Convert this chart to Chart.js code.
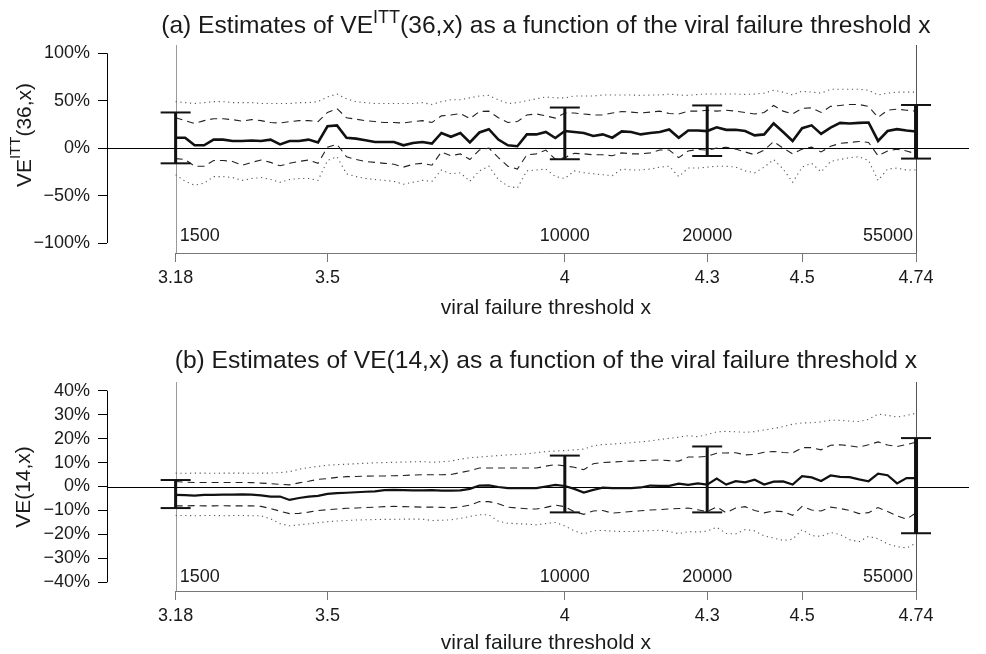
<!DOCTYPE html>
<html>
<head>
<meta charset="utf-8">
<script src="https://cdn.jsdelivr.net/npm/chart.js@4.4.1/dist/chart.umd.min.js"></script>
<style>
  body { margin: 0; background: #fff; }
  #wrap { position: relative; width: 986px; height: 654px; }
  canvas { position: absolute; left: 0; }
</style>
</head>
<body>
<div id="wrap">
  <canvas id="panelA" width="986" height="327" style="top:0"></canvas>
  <canvas id="panelB" width="986" height="327" style="top:327px"></canvas>
</div>
<script>
// log10 of the viral failure threshold
const thresholds = [
  3.18, 3.20, 3.22, 3.24, 3.26, 3.28, 3.30, 3.32, 3.34, 3.36, 3.38, 3.40, 3.42, 3.44,
  3.46, 3.48, 3.50, 3.52, 3.54, 3.56, 3.58, 3.60, 3.62, 3.64, 3.66, 3.68, 3.70,
  3.72, 3.74, 3.76, 3.78, 3.80, 3.82, 3.84, 3.86, 3.88, 3.90, 3.92, 3.94, 3.96, 3.98,
  4.00, 4.02, 4.04, 4.06, 4.08, 4.10, 4.12, 4.14, 4.16, 4.18, 4.20, 4.22, 4.24, 4.26,
  4.28, 4.30, 4.32, 4.34, 4.36, 4.38, 4.40, 4.42, 4.44, 4.46, 4.48, 4.50, 4.52, 4.54,
  4.56, 4.58, 4.60, 4.62, 4.64, 4.66, 4.68, 4.70, 4.72, 4.74
];
const xTicks = [3.18, 3.5, 4, 4.3, 4.5, 4.74];
const barX = [3.18, 4.0, 4.3, 4.74];
const countLabels = ['1500', '10000', '20000', '55000'];

// (a) VE^ITT(36,x), percent
const estA = [
  11, 11, 3, 3, 9, 9, 7.6, 7.6, 8, 7.6, 9, 4, 7.6, 7.6, 9, 6, 23, 24, 11, 10, 8.3, 6.5, 6.5, 6.5, 3, 5.5, 6.5,
  4.8, 16, 12, 15.9, 6, 16.5, 20, 9, 3, 2, 14.5, 14.5, 17, 10.7, 18, 17, 16, 12.8, 14.5, 11, 17.6, 17, 14.5, 15.9, 17, 19.7, 11, 18.6,
  18.6, 18, 22, 19.3, 19.3, 18, 13.5, 14.5, 26, 17, 7.6, 21, 24, 15, 21.7, 26.6, 26, 26.6, 27, 7.6, 18, 20, 18.6, 17.6
];
const hiDashA = [
  32, 29, 26, 29, 31, 31, 30, 28.5, 30, 29, 27, 26.5, 28, 29, 29, 28, 37.6, 41.7, 32, 30.5, 29, 28, 27, 27, 26.5, 28, 29,
  27, 34, 35, 36.5, 31, 38.6, 39, 32, 27, 28, 35, 36, 34, 31.7, 37, 37, 36, 35, 35, 37, 38.6, 38, 37, 38, 39, 36.5, 36, 39,
  39, 40, 39, 40, 39, 37.6, 36, 37.6, 45, 39, 36, 42, 42.5, 37.6, 44, 45, 46, 46, 44, 32.4, 40, 41, 40, 39
];
const hiDotA = [
  49, 48, 47, 48, 49, 49, 48, 48, 48, 47, 47, 47, 47, 48, 48, 49, 54, 57, 52, 49, 48, 47, 47, 47, 47, 47, 48,
  46, 49, 51, 51, 53, 55, 55.6, 51, 47, 48, 50, 52, 54, 53, 53, 55, 55, 55, 56, 56, 56, 56, 55.6, 56, 56, 57, 56, 55.6,
  56.6, 57, 57, 57, 57, 56.6, 57, 58, 61, 59, 56, 60, 59, 58, 62, 62, 62, 62, 61, 56, 58, 59, 59, 59
];
const loDashA = [
  -11, -12, -19, -19, -13, -13, -14, -18, -15, -12.5, -15, -18.6, -16, -14, -12.5, -16, 1, 4, -9, -12, -14, -15, -16, -17, -20, -17, -16,
  -18, -4, -8, -6, -12, -2, 0, -10, -19, -22, -7, -6, -2, -11.7, -10, -5.5, -6, -7, -7, -8, -5, -6, -6, -5, -2, -2, -10, -3,
  -1.4, -2, 0, 1, -1, -4, -7, -2, 7, 0, -6, -1, 1, -4, 2, 5, 6, 7, 6, -8, -3, -1, -3, -6
];
const loDotA = [
  -28, -35, -39, -37, -30, -30, -31, -34, -32, -31, -33, -36, -33, -32, -32, -34, -13, -9, -27, -30, -32, -33, -34, -35, -38, -36, -34,
  -35, -23, -27, -26, -35, -24, -19, -33, -40, -42, -24, -23, -22, -30, -32, -24, -26, -27, -28, -29, -22, -23, -23, -22, -20, -19, -30, -21,
  -21, -20, -19, -19, -20, -24, -26, -20, -12, -22, -36, -20, -16, -25, -14, -12, -10, -9, -13, -34, -22, -21, -23, -23
];
const barLoA = [-16, -11.7, -8.3, -11];
const barHiA = [37.6, 42.8, 45, 45.5];

// (b) VE(14,x), percent
const estB = [
  -3.5, -3.6, -3.8, -3.5, -3.5, -3.4, -3.4, -3.3, -3.4, -3.7, -4.2, -4.2, -5.6, -4.8, -4.2, -3.9, -3.1, -2.8, -2.6, -2.4, -2.2, -2.0, -1.5, -1.4, -1.5, -1.6, -1.6,
  -1.5, -1.7, -1.7, -1.6, -1.0, 0.4, 0.5, -0.2, -0.7, -0.7, -0.7, -0.7, 0, 0.7, 0.2, -1.0, -2.5, -1.4, -0.5, -0.7, -0.7, -0.7, -0.4, 0.4, 0.3, 0.3, 1.2, 0.7,
  1.3, 0.8, 3.3, 0.8, 2.2, 1.7, 2.8, 0.8, 2.0, 2.1, 0.8, 4.3, 3.8, 2.3, 4.6, 4.0, 3.9, 3.0, 2.2, 5.4, 4.7, 1.3, 3.5, 3.5
];
const hiDashB = [
  2.1, 1.8, 1.7, 1.7, 1.7, 1.7, 1.7, 1.7, 1.6, 1.4, 1.2, 0.9, 0.7, 1.5, 2.2, 3.0, 3.3, 3.8, 4.1, 4.2, 4.3, 4.4, 4.4, 4.5, 4.6, 4.8, 4.9,
  4.9, 4.9, 5.0, 5.8, 6.6, 7.7, 7.7, 7.7, 7.7, 7.7, 7.7, 7.7, 8.5, 9.1, 8.6, 8.0, 7.0, 9.5, 10.0, 10.2, 10.4, 10.6, 10.8, 10.9, 11.1, 10.8, 10.6, 12.3,
  12.3, 12.6, 13.9, 14.0, 14.1, 13.2, 13.4, 14.3, 14.6, 14.2, 14.0, 16.2, 16.2, 15.3, 17.2, 17.4, 17.0, 16.4, 17.4, 18.6, 17.3, 16.7, 17.5, 18.5
];
const hiDotB = [
  5.6, 5.5, 5.6, 5.6, 5.5, 5.6, 5.6, 5.6, 5.5, 5.6, 5.6, 5.8, 6.2, 7.2, 7.9, 8.4, 8.9, 9.1, 9.3, 9.5, 9.7, 9.9, 10.0, 10.1, 10.2, 10.3, 10.4,
  10.1, 10.3, 10.6, 11.4, 12.0, 12.3, 12.6, 12.9, 13.2, 13.4, 13.6, 14.1, 14.6, 14.8, 15.0, 15.3, 15.6, 17.0, 17.5, 17.7, 18.0, 18.3, 18.6, 19.0, 19.6, 20.1, 20.6, 21.2,
  20.8, 21.6, 22.8, 23.0, 22.8, 22.6, 22.9, 23.6, 24.2, 25.0, 26.0, 26.5, 26.6, 27.0, 27.7, 27.6, 27.3, 27.1, 28.0, 30.2, 29.7, 29.0, 29.6, 30.6
];
const loDashB = [
  -8.1, -8.1, -8.0, -8.1, -8.1, -8.0, -8.1, -8.1, -8.1, -8.3, -9.2, -10.3, -11.3, -11.2, -10.7, -10.0, -9.7, -9.4, -9.1, -9.0, -8.8, -8.6, -8.4, -8.3, -8.4, -8.5, -8.6,
  -8.6, -8.7, -8.9, -8.5, -7.8, -6.3, -6.3, -7.2, -8.6, -9.0, -9.3, -9.4, -8.7, -7.8, -8.4, -10.5, -11.6, -10.2, -10.0, -11.1, -10.8, -10.4, -10.1, -9.8, -9.6, -9.4, -9.2, -9.0,
  -9.7, -10.5, -8.5, -11.0, -9.0, -8.4, -10.0, -11.0, -10.2, -10.5, -12.0, -8.3, -9.8, -10.2, -8.6, -9.2, -10.0, -11.3, -10.9, -8.8, -10.4, -12.3, -13.6, -11.0
];
const loDotB = [
  -12.1, -12.1, -12.2, -12.1, -12.1, -12.2, -12.1, -12.1, -12.2, -12.2, -13.5, -15.5, -16.4, -16.0, -15.6, -15.1, -14.7, -14.4, -14.2, -14.0, -13.9, -13.8, -13.7, -13.7, -13.6, -13.6, -13.6,
  -14.2, -14.1, -13.9, -13.3, -12.5, -11.8, -11.8, -14.5, -15.3, -15.5, -15.7, -16.0, -15.5, -15.0, -16.5, -18.5, -19.8, -18.5, -18.3, -18.6, -18.8, -18.8, -18.6, -18.4, -18.2, -18.8, -19.7, -18.8,
  -19.0, -18.6, -17.0, -19.6, -19.8, -18.0, -18.5, -20.6, -21.5, -22.5, -22.0, -18.0, -20.5, -20.8, -19.2, -20.0, -22.2, -23.0, -20.8, -21.8, -24.0, -25.1, -25.6, -23.7
];
const barLoB = [-9, -10.8, -10.8, -19.5];
const barHiB = [2.7, 12.9, 16.7, 20.2];

const yTicksA = [-100, -50, 0, 50, 100];
const yTicksB = [-40, -30, -20, -10, 0, 10, 20, 30, 40];

const FONT = "'Liberation Sans', Arial, Helvetica, sans-serif";
const INK = '#1a1a1a';
Chart.defaults.font.family = FONT;
Chart.defaults.color = INK;

function pct(v) {
  return (v < 0 ? '\u2212' + Math.abs(v) : String(v)) + '%';
}

// draw a run of text pieces, some of them superscript; x is the centre
function richText(ctx, parts, cx, y, size) {
  const supSize = Math.round(size * 0.72);
  const widths = parts.map(p => {
    ctx.font = (p.sup ? supSize : size) + 'px ' + FONT;
    return ctx.measureText(p.t).width;
  });
  let x = cx - widths.reduce((a, b) => a + b, 0) / 2;
  ctx.textAlign = 'left';
  parts.forEach((p, i) => {
    ctx.font = (p.sup ? supSize : size) + 'px ' + FONT;
    ctx.fillText(p.t, x, p.sup ? y - size * 0.42 : y);
    x += widths[i];
  });
}

// R-like extras: abline lines, short axis lines, count labels, titles
const rPlot = {
  id: 'rPlot',
  beforeDatasetsDraw(chart, args, o) {
    const { ctx, chartArea: a, scales: { x, y } } = chart;
    ctx.save();
    ctx.lineWidth = 1;
    ctx.strokeStyle = '#000';
    const y0 = Math.round(y.getPixelForValue(0)) + 0.5;
    ctx.beginPath(); ctx.moveTo(a.left, y0); ctx.lineTo(a.right, y0); ctx.stroke();
    [[xTicks[0], '#9a9a9a'], [xTicks[xTicks.length - 1], '#555']].forEach(([v, c]) => {
      const px = Math.round(x.getPixelForValue(v)) + 0.5;
      ctx.strokeStyle = c;
      ctx.beginPath(); ctx.moveTo(px, a.top); ctx.lineTo(px, a.bottom); ctx.stroke();
    });
    ctx.restore();
  },
  afterDraw(chart, args, o) {
    const { ctx, chartArea: a, scales: { x, y } } = chart;
    ctx.save();
    ctx.lineWidth = 1;
    // axis lines only across the tick range
    ctx.strokeStyle = '#000';
    const ax = a.left + 0.5;
    ctx.beginPath();
    ctx.moveTo(ax, y.getPixelForValue(o.yTicks[0]));
    ctx.lineTo(ax, y.getPixelForValue(o.yTicks[o.yTicks.length - 1]));
    ctx.stroke();
    ctx.strokeStyle = '#777';
    const ay = a.bottom + 0.5;
    ctx.beginPath();
    ctx.moveTo(x.getPixelForValue(xTicks[0]), ay);
    ctx.lineTo(x.getPixelForValue(xTicks[xTicks.length - 1]), ay);
    ctx.stroke();

    ctx.fillStyle = INK;
    ctx.textBaseline = 'middle';
    ctx.font = '18px ' + FONT;
    const aligns = ['left', 'center', 'center', 'right'];
    const nudge = [4, 0, 0, -3];
    barX.forEach((v, i) => {
      ctx.textAlign = aligns[i];
      ctx.fillText(countLabels[i], x.getPixelForValue(v) + nudge[i], a.bottom - o.countGap);
    });

    const midX = (x.getPixelForValue(xTicks[0]) + x.getPixelForValue(xTicks[xTicks.length - 1])) / 2;
    ctx.textBaseline = 'alphabetic';
    richText(ctx, o.title, midX, o.titleY, 24.6);
    ctx.textBaseline = 'middle';
    ctx.font = '21px ' + FONT;
    ctx.textAlign = 'center';
    ctx.fillText('viral failure threshold x', midX, o.xTitleY);

    ctx.translate(o.yTitleX, o.yTitleY);
    ctx.rotate(-Math.PI / 2);
    richText(ctx, o.yTitle, 0, 0, 21);
    ctx.restore();
  }
};

function band(arr, dash, width, color) {
  return {
    data: thresholds.map((v, i) => ({ x: v, y: arr[i] })),
    borderColor: color, borderWidth: width, borderDash: dash,
    pointRadius: 0, tension: 0, fill: false, order: 2
  };
}

function errorBars(idx, lo, hi, width) {
  const pts = [];
  idx.forEach(i => {
    pts.push({ x: barX[i], y: lo[i] }, { x: barX[i], y: hi[i] }, { x: barX[i], y: null });
  });
  return {
    data: pts, borderColor: '#111', borderWidth: width, borderCapStyle: 'butt',
    pointStyle: 'line', pointRadius: 15, pointBorderWidth: 2, pointBorderColor: '#111',
    spanGaps: false, order: 1
  };
}

function makePanel(id, p) {
  return new Chart(document.getElementById(id), {
    type: 'line',
    data: {
      datasets: [
        band(p.loDot, [1.2, 3.6], 1.1, '#555'),
        band(p.hiDot, [1.2, 3.6], 1.1, '#555'),
        band(p.loDash, [7, 5], 1.1, '#222'),
        band(p.hiDash, [7, 5], 1.1, '#222'),
        band(p.est, [], p.estWidth, '#111'),
        errorBars([0, 1, 2], p.barLo, p.barHi, 3),
        errorBars([3], p.barLo, p.barHi, 4)
      ]
    },
    options: {
      responsive: false,
      animation: false,
      events: [],
      layout: { padding: { top: p.top, left: 0, right: 0, bottom: 0 } },
      plugins: {
        legend: { display: false },
        tooltip: { enabled: false },
        rPlot: {
          yTicks: p.yTicks, title: p.title, titleY: p.titleY, yTitle: p.yTitle,
          yTitleX: p.yTitleX, yTitleY: p.yTitleY, xTitleY: p.xTitleY, countGap: p.countGap
        }
      },
      scales: {
        x: {
          type: 'linear', min: 3.0354, max: 4.8516,
          afterBuildTicks: s => { s.ticks = xTicks.map(v => ({ value: v })); },
          afterFit: s => { s.height = p.xAxisHeight; },
          ticks: { autoSkip: false, maxRotation: 0, padding: 5, font: { size: 18 }, color: INK,
                   callback: v => String(v) },
          grid: { drawOnChartArea: false, drawTicks: true, tickLength: 9, color: '#777', lineWidth: 1 },
          border: { display: false }
        },
        y: {
          min: p.yMin, max: p.yMax,
          afterBuildTicks: s => { s.ticks = p.yTicks.map(v => ({ value: v })); },
          afterFit: s => { s.width = 107; },
          ticks: { padding: 8, font: { size: 18 }, color: INK, callback: v => pct(v) },
          grid: { drawOnChartArea: false, drawTicks: true, tickLength: 9, color: '#000', lineWidth: 1 },
          border: { display: false }
        }
      }
    },
    plugins: [rPlot]
  });
}

makePanel('panelA', {
  est: estA, hiDash: hiDashA, hiDot: hiDotA, loDash: loDashA, loDot: loDotA,
  barLo: barLoA, barHi: barHiA, estWidth: 2.6,
  yMin: -110.5, yMax: 108.7, yTicks: yTicksA, top: 45, xAxisHeight: 74,
  title: [{ t: '(a) Estimates of VE' }, { t: 'ITT', sup: true },
          { t: '(36,x) as a function of the viral failure threshold x' }],
  titleY: 33,
  yTitle: [{ t: 'VE' }, { t: 'ITT', sup: true }, { t: '(36,x)' }],
  yTitleX: 25, yTitleY: 135, xTitleY: 308, countGap: 17
});

makePanel('panelB', {
  est: estB, hiDash: hiDashB, hiDot: hiDotB, loDash: loDashB, loDot: loDotB,
  barLo: barLoB, barHi: barHiB, estWidth: 2.2,
  yMin: -43.6, yMax: 43.6, yTicks: yTicksB, top: 55, xAxisHeight: 63,
  title: [{ t: '(b) Estimates of VE(14,x) as a function of the viral failure threshold x' }],
  titleY: 41,
  yTitle: [{ t: 'VE(14,x)' }],
  yTitleX: 24, yTitleY: 160, xTitleY: 316, countGap: 14
});
</script>
</body>
</html>
